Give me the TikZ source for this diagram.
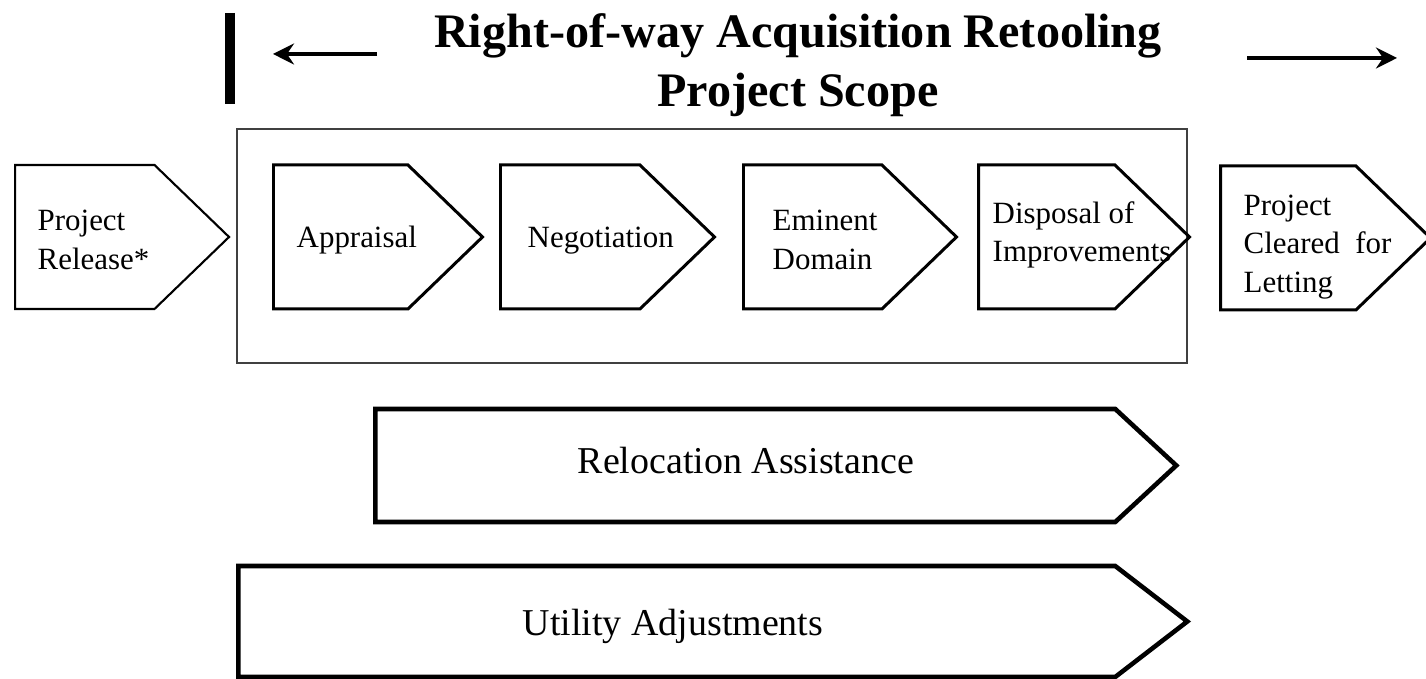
\documentclass[tikz,border=0pt]{standalone}
\usepackage{fontspec}
\setmainfont{Liberation Serif}
\usetikzlibrary{shapes.symbols,arrows.meta}

\begin{document}
\begin{tikzpicture}[
  stage/.style={signal, signal to=east, signal pointer angle=88, draw, line width=0.85pt,
    minimum width=2.12cm, minimum height=1.44cm, inner sep=0pt, anchor=west},
  band/.style={stage, line width=1.3pt, minimum height=1.12cm},
  scopebox/.style={draw=black!75, line width=0.45pt, minimum width=9.50cm, minimum height=2.34cm, inner sep=0pt},
  stagetext/.style={font=\fontsize{8.8}{11}\selectfont, align=left, inner sep=0pt, anchor=west},
  bandtext/.style={font=\fontsize{10.8}{13}\selectfont, inner sep=0pt, anchor=base west},
  heading/.style={font=\fontsize{13.7}{16.8}\selectfont\bfseries, align=center},
  span/.style={line width=1.3pt, -{Stealth[length=2.1mm, width=2.1mm, inset=0.7mm]}},
]
\useasboundingbox (0,0) rectangle (14.26,6.79);
% Title and scope markers
\node[heading] (title) at (7.98,6.135) {Right-of-way Acquisition Retooling\\Project Scope};
\draw[line width=2.85pt] (2.30,6.66) -- (2.30,5.75);
\coordinate (lstart) at (3.77,6.25);
\coordinate (lend)   at (2.73,6.25);
\coordinate (rstart) at (12.47,6.21);
\coordinate (rend)   at (13.97,6.21);
\draw[span] (lstart) -- (lend);
\draw[span] (rstart) -- (rend);
\node[scopebox] (scope) at (7.12,4.33) {};
% Process steps
\node[stage, line width=0.6pt, minimum width=2.14cm] (release) at (0.14,4.42) {};
\node[stage, minimum width=2.09cm] (appraisal)   at (2.72,4.42) {};
\node[stage, minimum width=2.14cm] (negotiation) at (4.99,4.42) {};
\node[stage, minimum width=2.13cm] (eminent)     at (7.42,4.42) {};
\node[stage, minimum width=2.11cm] (disposal)    at (9.77,4.42) {};
\node[stage, minimum width=2.10cm] (cleared)     at (12.19,4.41) {};
\node[stagetext] (release-t) at (0.37,4.39) {Project\\Release*};
\node[stagetext, anchor=base west] (appraisal-t)   at (2.96,4.31) {Appraisal};
\node[stagetext, anchor=base west] (negotiation-t) at (5.27,4.31) {Negotiation};
\node[stagetext] (eminent-t)  at (7.72,4.39) {Eminent\\Domain};
\node[stagetext] (disposal-t) at (9.92,4.44) {Disposal of\\Improvements};
\node[stagetext] (cleared-t)  at (12.43,4.32) {Project\\Cleared~~for\\Letting};
% Parallel activities
\node[band, signal pointer angle=85.6, minimum width=8.01cm, minimum height=1.13cm] (relocation) at (3.73,2.135) {};
\node[band, signal pointer angle=75.2, minimum width=9.49cm, minimum height=1.11cm] (utility) at (2.36,0.575) {};
\node[bandtext] (relocation-t) at (5.77,2.05) {Relocation Assistance};
\node[bandtext] (utility-t)    at (5.22,0.43) {Utility Adjustments};
\end{tikzpicture}
\end{document}
